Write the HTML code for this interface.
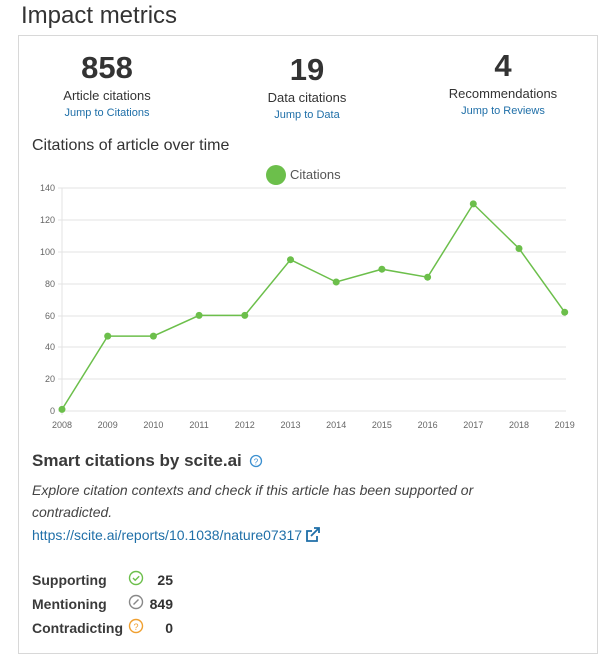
<!DOCTYPE html>
<html><head><style>
body{margin:0;width:600px;height:658px;background:#fff;font-family:"Liberation Sans",sans-serif;color:#333;position:relative;overflow:hidden}
.a{position:absolute}
.c{text-align:center;white-space:nowrap}
a{color:#1f6fa8;text-decoration:none}
</style></head><body>
<div class="a" style="left:21px;top:2px;font-size:24px;color:#333">Impact metrics</div>
<div class="a" style="left:18px;top:35px;width:578px;height:617px;border:1px solid #d8d8d8"></div>

<div class="a c" style="left:57px;top:50px;width:100px;font-size:31px;font-weight:bold">858</div>
<div class="a c" style="left:47px;top:88px;width:120px;font-size:13px">Article citations</div>
<div class="a c" style="left:47px;top:107px;width:120px;font-size:11px"><a>Jump to Citations</a></div>

<div class="a c" style="left:257px;top:52px;width:100px;font-size:31px;font-weight:bold">19</div>
<div class="a c" style="left:247px;top:90px;width:120px;font-size:13px">Data citations</div>
<div class="a c" style="left:247px;top:109px;width:120px;font-size:11px"><a>Jump to Data</a></div>

<div class="a c" style="left:453px;top:48px;width:100px;font-size:31px;font-weight:bold">4</div>
<div class="a c" style="left:433px;top:86px;width:140px;font-size:13px">Recommendations</div>
<div class="a c" style="left:433px;top:105px;width:140px;font-size:11px"><a>Jump to Reviews</a></div>

<div class="a" style="left:32px;top:137px;font-size:16px;color:#333">Citations of article over time</div>

<svg class="a" style="left:0;top:0" width="600" height="658">
<circle cx="276" cy="175" r="10" fill="#6cbf4b"/>
<text x="290" y="179" font-size="13" fill="#555" font-family="Liberation Sans">Citations</text>
<g stroke="#e3e3e3" stroke-width="1">
<line x1="58" y1="188" x2="566" y2="188"/><line x1="58" y1="220" x2="566" y2="220"/>
<line x1="58" y1="252" x2="566" y2="252"/><line x1="58" y1="284" x2="566" y2="284"/>
<line x1="58" y1="316" x2="566" y2="316"/><line x1="58" y1="347" x2="566" y2="347"/>
<line x1="58" y1="379" x2="566" y2="379"/><line x1="58" y1="411" x2="566" y2="411"/>
<line x1="62" y1="188" x2="62" y2="415"/>
</g>
<g font-size="9" fill="#666" text-anchor="end" font-family="Liberation Sans">
<text x="55" y="191">140</text><text x="55" y="223">120</text><text x="55" y="255">100</text>
<text x="55" y="287">80</text><text x="55" y="319">60</text><text x="55" y="350">40</text>
<text x="55" y="382">20</text><text x="55" y="414">0</text>
</g>
<g font-size="9" fill="#666" text-anchor="middle" font-family="Liberation Sans">
<text x="62" y="428">2008</text><text x="107.7" y="428">2009</text><text x="153.4" y="428">2010</text>
<text x="199.1" y="428">2011</text><text x="244.8" y="428">2012</text><text x="290.5" y="428">2013</text>
<text x="336.2" y="428">2014</text><text x="381.9" y="428">2015</text><text x="427.6" y="428">2016</text>
<text x="473.3" y="428">2017</text><text x="519" y="428">2018</text><text x="564.7" y="428">2019</text>
</g>
<polyline fill="none" stroke="#6cbf4b" stroke-width="1.5" points="62,409.4 107.7,336.1 153.4,336.1 199.1,315.4 244.8,315.4 290.5,259.7 336.2,282 381.9,269.2 427.6,277.2 473.3,203.9 519,248.5 564.7,312.2"/>
<g fill="#6cbf4b">
<circle cx="62" cy="409.4" r="3.5"/><circle cx="107.7" cy="336.1" r="3.5"/><circle cx="153.4" cy="336.1" r="3.5"/>
<circle cx="199.1" cy="315.4" r="3.5"/><circle cx="244.8" cy="315.4" r="3.5"/><circle cx="290.5" cy="259.7" r="3.5"/>
<circle cx="336.2" cy="282" r="3.5"/><circle cx="381.9" cy="269.2" r="3.5"/><circle cx="427.6" cy="277.2" r="3.5"/>
<circle cx="473.3" cy="203.9" r="3.5"/><circle cx="519" cy="248.5" r="3.5"/><circle cx="564.7" cy="312.2" r="3.5"/>
</g>
<circle cx="256" cy="461" r="5.5" fill="none" stroke="#3a8fd0" stroke-width="1.3"/>
<text x="256" y="464.5" font-size="8" fill="#3a8fd0" text-anchor="middle" font-family="Liberation Sans">?</text>
<g fill="none" stroke="#1f6fa8" stroke-width="1.8">
<path d="M312 531 h-5 v10 h10 v-5"/><path d="M311 536 l8 -8 M314 528 h5 v5"/>
</g>
<circle cx="136" cy="578" r="6.5" fill="none" stroke="#6cbf4b" stroke-width="1.4"/>
<path d="M133 578 l2.2 2.2 l4 -4" fill="none" stroke="#6cbf4b" stroke-width="1.4"/>
<circle cx="136" cy="602" r="6.5" fill="none" stroke="#888" stroke-width="1.4"/>
<path d="M133.5 604.5 l5 -5" stroke="#888" stroke-width="1.4"/>
<circle cx="136" cy="626" r="6.5" fill="none" stroke="#f0a030" stroke-width="1.4"/>
<text x="136" y="630" font-size="9" fill="#f0a030" text-anchor="middle" font-family="Liberation Sans">?</text>
</svg>

<div class="a" style="left:32px;top:451px;font-size:17px;font-weight:bold;color:#3a3a3a">Smart citations by scite.ai</div>
<div class="a" style="left:32px;top:479px;font-size:14px;font-style:italic;color:#444;line-height:22px;width:480px">Explore citation contexts and check if this article has been supported or contradicted.</div>
<div class="a" style="left:32px;top:527px;font-size:14px"><a>https://scite.ai/reports/10.1038/nature07317</a></div>
<div class="a" style="left:32px;top:568px;font-size:14px;font-weight:bold;line-height:24px;color:#3a3a3a">Supporting<br>Mentioning<br>Contradicting</div>
<div class="a" style="left:133px;top:568px;width:40px;text-align:right;font-size:14px;line-height:24px;font-weight:bold;color:#333">25<br>849<br>0</div>
</body></html>
